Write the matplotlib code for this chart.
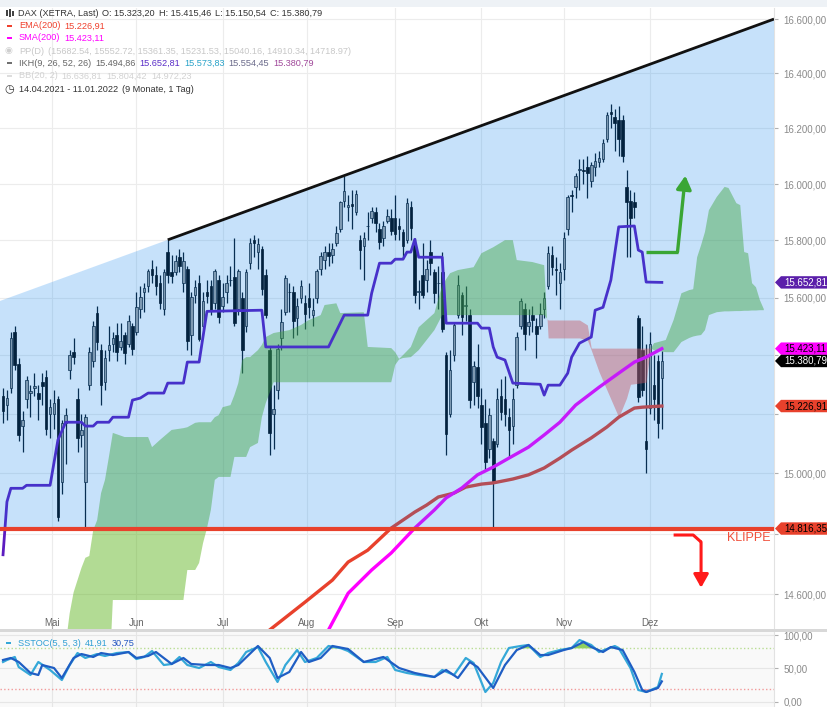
import numpy as np
import pandas as pd
import matplotlib
matplotlib.use('Agg')
import matplotlib.pyplot as plt
from matplotlib.patches import Polygon, Rectangle
from matplotlib.transforms import IdentityTransform
from matplotlib.ticker import FixedLocator, NullLocator, FuncFormatter

plt.rcParams['font.family'] = ['Liberation Sans', 'DejaVu Sans']

W, H = 828, 707
PX = IdentityTransform()

# trading days on the axis: 14.04.2021 - 11.01.2022 (last candle 06.12.2021)
days = pd.bdate_range('2021-04-14', '2022-01-11')

# DAX daily candles 14.04.2021 - 06.12.2021 (one row per month)
opens = [
    15260, 15230, 15290, 15480, 15370, 15160, 15250, 15270, 15290, 15270, 15310, 15325, 15200,
    15200, 15250, 14970, 15170, 15350, 15410, 15250, 15130, 14970, 15300, 15380, 15545, 15420, 15310, 15420, 15440, 15470, 15430, 15470, 15440, 15500,
    15480, 15560, 15620, 15640, 15700, 15680, 15650, 15560, 15760, 15690, 15690, 15740, 15650, 15700, 15470, 15610, 15650, 15500, 15620, 15640, 15580, 15660,
    15570, 15620, 15660, 15670, 15560, 15600, 15500, 15720, 15800, 15760, 15770, 15680, 15420, 15200, 15280, 15460, 15550, 15620, 15620, 15530, 15600, 15580,
    15600, 15540, 15600, 15700, 15730, 15760, 15750, 15790, 15840, 15940, 15920, 15930, 15900, 15800, 15780, 15850, 15880, 15900, 15840, 15810, 15870, 15880,
    15880, 15850, 15830, 15800, 15920, 15790, 15620, 15680, 15660, 15760, 15690, 15650, 15690, 15400, 15200, 15400, 15540, 15610, 15570, 15540, 15310, 15360,
    15230, 15170, 15080, 15110, 15100, 15260, 15250, 15190, 15160, 15300, 15500, 15560, 15500, 15540, 15500, 15500, 15560, 15640, 15750, 15700, 15650,
    15700, 15840, 15960, 15990, 16050, 16050, 16060, 16010, 16060, 16080, 16090, 16160, 16260, 16240, 16230, 16230, 15990, 15940, 15935, 15530, 15420, 15110,
    15220, 15300, 15380, 15323.20,
]
highs = [
    15290, 15280, 15480, 15500, 15390, 15210, 15330, 15300, 15340, 15300, 15340, 15350, 15250,
    15280, 15260, 15180, 15220, 15420, 15460, 15290, 15200, 15200, 15430, 15520, 15570, 15440, 15420, 15500, 15480, 15510, 15510, 15480, 15540, 15510,
    15620, 15640, 15650, 15700, 15730, 15710, 15680, 15700, 15802, 15750, 15750, 15770, 15760, 15710, 15620, 15660, 15680, 15620, 15660, 15660, 15700, 15680,
    15650, 15680, 15710, 15810, 15700, 15620, 15700, 15810, 15820, 15810, 15780, 15700, 15430, 15300, 15440, 15560, 15680, 15650, 15640, 15600, 15660, 15610,
    15650, 15600, 15700, 15760, 15780, 15790, 15790, 15850, 15940, 16030, 15960, 15980, 15980, 15820, 15830, 15900, 15920, 15920, 15860, 15870, 15910, 15910,
    15960, 15880, 15840, 15950, 15940, 15810, 15660, 15790, 15730, 15800, 15700, 15710, 15760, 15410, 15420, 15510, 15680, 15620, 15640, 15560, 15380, 15440,
    15290, 15250, 15220, 15120, 15290, 15320, 15330, 15220, 15290, 15480, 15600, 15580, 15560, 15570, 15530, 15580, 15620, 15780, 15780, 15740, 15720,
    15830, 15960, 15980, 16040, 16090, 16090, 16100, 16080, 16110, 16120, 16160, 16260, 16290, 16270, 16280, 16250, 16050, 15980, 15970, 15540, 15500, 15440,
    15480, 15400, 15400, 15415.46,
]
lows = [
    15170, 15180, 15270, 15350, 15110, 15070, 15220, 15190, 15260, 15180, 15230, 15130, 15120,
    15150, 14840, 14930, 15030, 15320, 15370, 15070, 15090, 14816, 15280, 15360, 15420, 15230, 15280, 15380, 15410, 15380, 15420, 15370, 15430, 15400,
    15470, 15530, 15550, 15620, 15650, 15610, 15560, 15540, 15650, 15650, 15680, 15690, 15620, 15420, 15400, 15580, 15450, 15490, 15580, 15540, 15560, 15510,
    15550, 15580, 15640, 15500, 15540, 15340, 15480, 15700, 15740, 15700, 15610, 15530, 15060, 15080, 15250, 15420, 15540, 15550, 15460, 15470, 15580, 15490,
    15530, 15500, 15580, 15680, 15700, 15710, 15720, 15780, 15830, 15920, 15870, 15840, 15890, 15700, 15660, 15800, 15860, 15830, 15770, 15780, 15860, 15820,
    15800, 15800, 15740, 15790, 15800, 15580, 15560, 15600, 15620, 15680, 15580, 15560, 15480, 15060, 15190, 15380, 15530, 15470, 15520, 15220, 15230, 15220,
    15100, 15010, 15050, 14818, 15090, 15180, 15160, 15050, 15100, 15290, 15490, 15420, 15470, 15480, 15390, 15490, 15530, 15630, 15680, 15610, 15560,
    15660, 15820, 15900, 15950, 15980, 16000, 15950, 15990, 16030, 16060, 16080, 16150, 16200, 16120, 16100, 16080, 15740, 15740, 15880, 15240, 15260, 15000,
    15200, 15180, 15120, 15150.54,
]
closes = [
    15209, 15255, 15460, 15368, 15129, 15180, 15315, 15279, 15296, 15250, 15295, 15150, 15225,
    15236, 14856, 15170, 15197, 15400, 15395, 15120, 15145, 15190, 15410, 15500, 15446, 15300, 15390, 15437, 15460, 15410, 15451, 15407, 15520, 15421,
    15568, 15603, 15632, 15693, 15677, 15640, 15581, 15690, 15680, 15674, 15729, 15710, 15727, 15448, 15603, 15636, 15456, 15589, 15607, 15554, 15691, 15531,
    15603, 15650, 15661, 15511, 15692, 15420, 15688, 15791, 15790, 15788, 15630, 15540, 15134, 15216, 15422, 15514, 15669, 15618, 15519, 15570, 15640, 15544,
    15568, 15555, 15692, 15744, 15761, 15745, 15770, 15826, 15937, 15977, 15925, 15922, 15965, 15765, 15808, 15852, 15905, 15860, 15794, 15851, 15888, 15835,
    15824, 15840, 15781, 15932, 15843, 15610, 15623, 15609, 15701, 15722, 15616, 15652, 15490, 15132, 15349, 15506, 15644, 15532, 15574, 15249, 15365, 15261,
    15156, 15037, 15195, 14973, 15250, 15207, 15199, 15147, 15250, 15462, 15587, 15475, 15516, 15522, 15473, 15543, 15599, 15757, 15705, 15696, 15689,
    15807, 15955, 15959, 16029, 16054, 16046, 16040, 16067, 16083, 16094, 16148, 16247, 16251, 16221, 16160, 16100, 15937, 15878, 15917, 15257, 15280, 15080,
    15440, 15250, 15170, 15380.79,
]

# Ichimoku cloud (Senkou span A / B, shifted 26 days ahead)
kumo_dates = [
    '2021-05-06', '2021-05-07', '2021-05-10', '2021-05-12', '2021-05-13', '2021-05-14', '2021-05-17', '2021-05-18', '2021-05-19', '2021-05-20', '2021-05-21', '2021-05-24', '2021-05-27',
    '2021-06-04', '2021-06-07', '2021-06-09', '2021-06-14', '2021-06-17', '2021-06-18', '2021-06-22', '2021-06-23', '2021-06-24', '2021-06-25', '2021-06-28', '2021-06-29', '2021-06-30',
    '2021-07-01', '2021-07-05', '2021-07-06', '2021-07-07', '2021-07-08', '2021-07-09', '2021-07-12', '2021-07-14', '2021-07-15', '2021-07-16', '2021-07-20', '2021-07-26', '2021-07-29',
    '2021-08-02', '2021-08-05', '2021-08-06', '2021-08-11', '2021-08-12', '2021-08-20', '2021-08-23', '2021-08-31',
    '2021-09-01', '2021-09-02', '2021-09-03', '2021-09-07', '2021-09-09', '2021-09-15', '2021-09-17', '2021-09-21', '2021-09-23', '2021-09-29',
    '2021-10-01', '2021-10-06', '2021-10-11', '2021-10-13', '2021-10-14', '2021-10-20', '2021-10-25', '2021-10-26',
    '2021-11-05', '2021-11-09', '2021-11-10', '2021-11-12', '2021-11-16', '2021-11-19', '2021-11-23', '2021-11-24', '2021-11-30',
    '2021-12-01', '2021-12-02', '2021-12-07', '2021-12-09', '2021-12-13', '2021-12-15', '2021-12-16', '2021-12-17', '2021-12-20', '2021-12-21', '2021-12-22', '2021-12-24', '2021-12-28', '2021-12-29', '2021-12-31',
    '2022-01-03', '2022-01-04', '2022-01-05', '2022-01-06', '2022-01-07', '2022-01-10', '2022-01-11',
]
span_a = [
    14440, 14539, 14607, 14687, 14720, 14726, 14811, 14844, 14934, 14978, 15055, 15136, 15122,
    15122, 15088, 15112, 15146, 15152, 15155, 15170, 15172, 15172, 15172, 15172, 15189, 15196,
    15223, 15230, 15264, 15305, 15384, 15394, 15394, 15418, 15436, 15463, 15477, 15487, 15505,
    15522, 15539, 15574, 15580, 15546, 15549, 15429, 15425,
    15411, 15388, 15401, 15429, 15497, 15546, 15643, 15685, 15696, 15706,
    15755, 15776, 15801, 15801, 15731, 15724, 15713, 15460,
    15460, 15453, 15418, 15343, 15281, 15189, 15254, 15301, 15308,
    15418, 15442, 15453, 15522, 15615, 15626, 15629, 15741, 15783, 15830, 15907, 15954, 15990, 15986, 15932,
    15925, 15759, 15755, 15650, 15636, 15591, 15560,
]
span_b = [
    14300, 14300, 14300, 14300, 14300, 14300, 14300, 14300, 14300, 14300, 14300, 14582, 14582,
    14582, 14582, 14582, 14582, 14582, 14680, 14680, 14703, 14768, 14817, 14878, 14978, 14988,
    14988, 14988, 15055, 15055, 15055, 15055, 15088, 15102, 15189, 15237, 15308, 15308, 15308,
    15308, 15308, 15308, 15308, 15308, 15308, 15308, 15308,
    15367, 15386, 15391, 15394, 15418, 15487, 15539, 15539, 15539, 15539,
    15539, 15539, 15539, 15539, 15539, 15539, 15539, 15522,
    15522, 15505, 15425, 15425, 15425, 15425, 15425, 15425, 15425,
    15425, 15418, 15411, 15411, 15446, 15460, 15465, 15468, 15470, 15487, 15539, 15549, 15552, 15552, 15553,
    15553, 15554, 15554, 15555, 15555, 15556, 15556,
]

# Kijun-sen (IKH 26)
kijun_dates = [
    '2021-04-14', '2021-04-15', '2021-04-16', '2021-04-21', '2021-04-22', '2021-04-30',
    '2021-05-04', '2021-05-06', '2021-05-12', '2021-05-13', '2021-05-17', '2021-05-18', '2021-05-21', '2021-05-24', '2021-05-28', '2021-05-31',
    '2021-06-02', '2021-06-04', '2021-06-10', '2021-06-11', '2021-06-17', '2021-06-18', '2021-06-23', '2021-06-25',
    '2021-07-15', '2021-07-16',
    '2021-08-09', '2021-08-13', '2021-08-23', '2021-08-24', '2021-08-26', '2021-08-31',
    '2021-09-01', '2021-09-03', '2021-09-06', '2021-09-07', '2021-09-08', '2021-09-09', '2021-09-17', '2021-09-20', '2021-09-30',
    '2021-10-01', '2021-10-05', '2021-10-06', '2021-10-07', '2021-10-11', '2021-10-13', '2021-10-22', '2021-10-25', '2021-10-26', '2021-10-29',
    '2021-11-02', '2021-11-03', '2021-11-05', '2021-11-10', '2021-11-11', '2021-11-15', '2021-11-17', '2021-11-19', '2021-11-25', '2021-11-26', '2021-11-29', '2021-11-30',
    '2021-12-06',
]
kijun = [
    14730, 14905, 14950, 14950, 14960, 14960,
    15112, 15172, 15172, 15159, 15159, 15172, 15172, 15189, 15189, 15247,
    15254, 15271, 15271, 15305, 15305, 15377, 15377, 15552,
    15556, 15429,
    15429, 15539, 15539, 15615, 15720, 15720,
    15734, 15734, 15759, 15759, 15804, 15741, 15741, 15511, 15511,
    15494, 15494, 15429, 15394, 15384, 15305, 15301, 15264, 15298, 15298,
    15339, 15394, 15442, 15463, 15556, 15566, 15661, 15848, 15851, 15766, 15759, 15654,
    15652.81,
]

# EMA(200) and SMA(200)
ema_dates = ['2021-07-05', '2021-07-19', '2021-07-30', '2021-08-10', '2021-08-16', '2021-08-23', '2021-08-31',
             '2021-09-08', '2021-09-13', '2021-09-16', '2021-09-22', '2021-09-27', '2021-10-01', '2021-10-06',
             '2021-10-13', '2021-10-19', '2021-10-25', '2021-10-29', '2021-11-03', '2021-11-10', '2021-11-16',
             '2021-11-19', '2021-11-25', '2021-11-29', '2021-12-06']
ema200 = [14390, 14485, 14575, 14647, 14706, 14745, 14818, 14871, 14894, 14921, 14934, 14954, 14964, 14968,
          14981, 14995, 15018, 15051, 15078, 15119, 15156, 15189, 15220, 15223, 15226.91]
sma_dates = ['2021-08-05', '2021-08-09', '2021-08-16', '2021-08-24', '2021-08-31', '2021-09-08', '2021-09-15',
             '2021-09-20', '2021-09-24', '2021-09-30', '2021-10-06', '2021-10-12', '2021-10-19', '2021-10-25',
             '2021-10-29', '2021-11-04', '2021-11-12', '2021-11-19', '2021-11-25', '2021-11-30', '2021-12-06']
sma200 = [14430, 14485, 14604, 14680, 14736, 14818, 14878, 14918, 14951, 14995, 15021, 15051, 15088, 15129,
          15172, 15230, 15291, 15339, 15377, 15394, 15423.11]

# Slow stochastic SSTOC(5, 5, 3): %K and %D
k_dates = [
    '2021-04-14', '2021-04-15', '2021-04-19', '2021-04-20', '2021-04-23', '2021-04-27', '2021-04-30',
    '2021-05-05', '2021-05-07', '2021-05-11', '2021-05-13', '2021-05-18', '2021-05-20', '2021-05-25', '2021-05-28',
    '2021-06-01', '2021-06-03', '2021-06-07', '2021-06-10', '2021-06-14', '2021-06-16', '2021-06-18', '2021-06-23', '2021-06-28', '2021-06-30',
    '2021-07-05', '2021-07-07', '2021-07-09', '2021-07-14', '2021-07-16', '2021-07-21', '2021-07-23', '2021-07-28', '2021-07-30',
    '2021-08-04', '2021-08-09', '2021-08-12', '2021-08-16', '2021-08-20', '2021-08-25', '2021-08-30',
    '2021-09-01', '2021-09-06', '2021-09-09', '2021-09-15', '2021-09-17', '2021-09-22', '2021-09-27', '2021-09-29',
    '2021-10-04', '2021-10-06', '2021-10-08', '2021-10-12', '2021-10-15', '2021-10-19', '2021-10-22', '2021-10-26', '2021-10-29',
    '2021-11-03', '2021-11-05', '2021-11-10', '2021-11-12', '2021-11-18', '2021-11-19', '2021-11-24', '2021-11-26', '2021-11-30',
    '2021-12-03', '2021-12-06',
]
k_vals = [
    59.7, 62.7, 67.2, 52.2, 40.3, 59.7, 47.8,
    32.8, 55.2, 73.1, 65.7, 71.6, 68.7, 73.1, 74.6,
    64.2, 67.2, 76.1, 55.2, 56.7, 67.2, 55.2, 50.7, 59.7, 52.2,
    47.8, 58.2, 74.6, 82.1, 59.7, 29.9, 55.2, 77.6, 59.7,
    65.7, 83.6, 80.6, 76.1, 59.7, 59.7, 67.2,
    47.8, 43.3, 40.3, 37.3, 47.8, 40.3, 65.7, 58.2,
    14.9, 28.4, 59.7, 80.6, 83.6, 85.1, 67.2, 73.1, 77.6,
    80.6, 92.5, 85.1, 74.6, 83.6, 80.6, 50.7, 17.9, 14.9,
    22.4, 41.91,
]
d_dates = [
    '2021-04-14', '2021-04-16', '2021-04-20', '2021-04-23', '2021-04-27', '2021-04-28',
    '2021-05-03', '2021-05-05', '2021-05-10', '2021-05-12', '2021-05-17', '2021-05-19', '2021-05-24', '2021-05-28',
    '2021-06-01', '2021-06-04', '2021-06-08', '2021-06-14', '2021-06-17', '2021-06-21', '2021-06-25', '2021-06-30',
    '2021-07-05', '2021-07-07', '2021-07-14', '2021-07-19', '2021-07-21', '2021-07-26', '2021-07-29',
    '2021-08-02', '2021-08-05', '2021-08-10', '2021-08-16', '2021-08-20', '2021-08-27',
    '2021-09-02', '2021-09-08', '2021-09-15', '2021-09-20', '2021-09-23', '2021-09-28', '2021-09-30',
    '2021-10-06', '2021-10-11', '2021-10-14', '2021-10-19', '2021-10-22', '2021-10-26',
    '2021-11-01', '2021-11-03', '2021-11-08', '2021-11-10', '2021-11-15', '2021-11-17', '2021-11-22', '2021-11-25', '2021-11-29', '2021-11-30',
    '2021-12-03', '2021-12-06',
]
d_vals = [
    62.7, 65.7, 59.7, 43.3, 40.3, 55.2,
    50.7, 35.8, 65.7, 71.6, 67.2, 73.1, 70.1, 74.6,
    65.7, 68.7, 74.6, 56.7, 65.7, 56.7, 55.2, 55.2,
    50.7, 55.2, 83.6, 65.7, 35.8, 44.8, 74.6,
    59.7, 65.7, 83.6, 79.1, 59.7, 67.2,
    50.7, 43.3, 37.3, 47.8, 35.8, 59.7, 52.2,
    20.9, 55.2, 77.6, 85.1, 70.1, 70.1,
    77.6, 80.6, 89.6, 82.1, 74.6, 82.1, 77.6, 44.8, 17.9, 14.9,
    20.9, 30.75,
]

# drawings
klippe = 14816.35
trend_start_date, trend_start = '2021-06-11', 15802
trend_end = 16600
green_arrow_dates = ['2021-11-30', '2021-12-10', '2021-12-14']
green_arrow_prices = [15760, 15760, 16030]
red_arrow_dates = ['2021-12-09', '2021-12-16', '2021-12-20', '2021-12-20']
red_arrow_prices = [14795, 14795, 14772, 14622]

month_names = ['Mai', 'Jun', 'Jul', 'Aug', 'Sep', 'Okt', 'Nov', 'Dez']
# axis levels that sit under a price tag on the right
covered_levels = [14800, 15200, 15400]


def de(v, _=None):
    s = f'{v:,.2f}'
    return s.replace(',', '#').replace('.', ',').replace('#', '.')


def axis_label(v, _=None):
    return '' if round(v) in covered_levels else de(v)


def pos(dates):
    return days.get_indexer(pd.to_datetime(dates)).astype(float)


fig = plt.figure(figsize=(W / 100, H / 100), dpi=100)
fig.patch.set_facecolor('white')
ax = fig.add_axes([0, 1 - 629 / H, 774 / W, 621 / H])
ax2 = fig.add_axes([0, 0, 774 / W, 75 / H])
xlim = (-0.77, 196.6)

tick_pos = []
for m in pd.date_range('2021-05-01', '2021-12-01', freq='MS'):
    i = days.searchsorted(m)
    tick_pos.append(i if days[i] == m else i - 0.5)

# ---- main panel
ax.set_yscale('log')
ax.set_xlim(*xlim)
ax.set_ylim(14488, 16641)
ax.yaxis.set_major_locator(FixedLocator(np.arange(14600, 16601, 200)))
ax.yaxis.set_minor_locator(NullLocator())
ax.yaxis.set_major_formatter(FuncFormatter(axis_label))
ax.yaxis.tick_right()
ax.tick_params(axis='y', length=3, color='#b0b0b0', labelcolor='#8a8a8a', labelsize=7, pad=4)
ax.set_xticks(tick_pos)
ax.set_xticklabels(month_names)
ax.tick_params(axis='x', direction='in', length=3, color='#aaaaaa', labelcolor='#666666', labelsize=7, pad=-8)
ax.grid(True, color='#ececec', lw=0.8)
ax.set_axisbelow(True)
for s in ['top', 'left', 'bottom']:
    ax.spines[s].set_visible(False)
ax.spines['right'].set_color('#e2e2e2')

x = np.arange(len(closes))
o, h, l, c = (np.array(v, dtype=float) for v in (opens, highs, lows, closes))
up = c >= o
ax.vlines(x, l, h, color='#0b1826', lw=0.9, zorder=2)
ax.bar(x[up], c[up] - o[up], bottom=o[up], width=0.66, color='#a2a2a2', edgecolor='#0b1826', lw=0.5, zorder=2.1)
ax.bar(x[~up], o[~up] - c[~up], bottom=c[~up], width=0.66, color='#04080c', edgecolor='#04080c', lw=0.5, zorder=2.1)

kx = pos(kumo_dates)
a = np.array(span_a, dtype=float)
b = np.array(span_b, dtype=float)
ax.fill_between(kx, a, b, where=a >= b, interpolate=True, color='#56b012', alpha=0.45, lw=0, zorder=2.5)
ax.fill_between(kx, a, b, where=a < b, interpolate=True, color='#ff503e', alpha=0.45, lw=0, zorder=2.5)

ax.plot(pos(ema_dates), ema200, color='#e8412c', lw=2.4, zorder=3)
ax.plot(pos(sma_dates), sma200, color='#ff00ff', lw=2.4, zorder=3)
ax.plot(pos(kijun_dates), kijun, color='#5c1cc0', lw=2.0, zorder=3)

# trend zone between the trend line and the "Klippe"
t0 = pos([trend_start_date])[0]
slope = (np.log(trend_end) - np.log(trend_start)) / (xlim[1] - t0)
v_left = np.exp(np.log(trend_start) - slope * (t0 - xlim[0]))
zone = Polygon([(xlim[0], v_left), (t0, trend_start), (xlim[1], trend_end), (xlim[1], klippe), (xlim[0], klippe)],
               closed=True, fc=(0, 125 / 255, 237 / 255, 0.224), ec='none', zorder=4)
ax.add_patch(zone)
ax.plot([t0, xlim[1]], [trend_start, trend_end], color='#111111', lw=2.0, zorder=5, solid_capstyle='butt')
ax.axhline(klippe, color='#e8412c', lw=3, zorder=5)

gx = pos(green_arrow_dates)
ax.plot(gx[:2], green_arrow_prices[:2], color='#3aa634', lw=2.4, zorder=5, solid_capstyle='butt')
ax.annotate('', xy=(gx[2], green_arrow_prices[2]), xytext=(gx[1], green_arrow_prices[1]), zorder=5,
            arrowprops=dict(arrowstyle='-|>,head_length=0.8,head_width=0.45', color='#3aa634', lw=2.4,
                            shrinkA=0, shrinkB=0))
rx = pos(red_arrow_dates)
ax.plot(rx[:3], red_arrow_prices[:3], color='#ff1a1a', lw=2.2, zorder=5, solid_capstyle='butt')
ax.annotate('', xy=(rx[3], red_arrow_prices[3]), xytext=(rx[2], red_arrow_prices[2]), zorder=5,
            arrowprops=dict(arrowstyle='-|>,head_length=0.8,head_width=0.45', color='#ff1a1a', lw=2.2,
                            shrinkA=0, shrinkB=0))

# ---- stochastic panel
ax2.set_xlim(*xlim)
ax2.set_ylim(-7.5, 104.5)
ax2.set_facecolor('#f9f9f9')
ax2.set_xticks(tick_pos)
ax2.tick_params(axis='x', length=0, labelbottom=False)
ax2.yaxis.tick_right()
ax2.set_yticks([0, 50, 100])
ax2.yaxis.set_major_formatter(FuncFormatter(de))
ax2.tick_params(axis='y', length=3, color='#b0b0b0', labelcolor='#8a8a8a', labelsize=7, pad=4)
ax2.grid(True, color='#e6e6e6', lw=0.8)
ax2.set_axisbelow(True)
for s in ['top', 'left', 'bottom']:
    ax2.spines[s].set_visible(False)
ax2.spines['right'].set_color('#e2e2e2')
ax2.axhline(80, color='#b9dd93', ls=':', lw=1.0)
ax2.axhline(20, color='#f29a9a', ls=':', lw=1.0)
dx = pos(d_dates)
dv = np.array(d_vals)
ax2.fill_between(dx, dv, 80, where=dv > 80, interpolate=True, color='#7cc943', alpha=0.85, lw=0)
ax2.fill_between(dx, dv, 20, where=dv < 20, interpolate=True, color='#f28c8c', alpha=0.85, lw=0)
ax2.plot(pos(k_dates), k_vals, color='#35a8d8', lw=1.6)
ax2.plot(dx, dv, color='#1f5ec4', lw=1.6)

# separators
fig.add_artist(Rectangle((0, H - 629 - 3), W, 3, fc='#d8d8d8', ec='none', transform=PX, zorder=0.5))
fig.add_artist(Rectangle((0, H - 7), W, 7, fc='#eef2f6', ec='none', transform=PX, zorder=0.5))


# ---- price tags on the right axis
def price_tag(value, bg, fg):
    yd = ax.transData.transform((0, value))[1]
    hh = 6.2
    verts = [(775, yd), (781, yd + hh), (W, yd + hh), (W, yd - hh), (781, yd - hh)]
    fig.add_artist(Polygon(verts, closed=True, fc=bg, ec='none', transform=PX, zorder=5))
    fig.text(784 / W, yd / H, de(value), color=fg, fontsize=7, va='center', ha='left', zorder=6)


price_tag(kijun[-1], '#5b1faa', 'white')
price_tag(klippe, '#e8412c', 'black')
price_tag(ema200[-1], '#e8412c', 'black')
price_tag(sma200[-1], '#ff00ff', 'black')
price_tag(closes[-1], '#000000', 'white')

fig.text(771 / W, 1 - 538 / H, 'KLIPPE', color='#f0503c', fontsize=9, ha='right', va='center', zorder=6)

# ---- legend rows
renderer = fig.canvas.get_renderer()


def row(x0, y, parts, size=6.6, gap=4):
    xx = x0
    for txt, col in parts:
        t = fig.text(xx / W, 1 - y / H, txt, color=col, fontsize=size, va='center', ha='left', zorder=6)
        xx = t.get_window_extent(renderer).x1 + gap


def dash(y, col):
    fig.add_artist(Rectangle((7, H - y - 1.3), 4.5, 2.6, fc=col, ec='none', transform=PX, zorder=6))


for bx, bh in [(6, 6), (9, 8), (12, 5)]:
    fig.add_artist(Rectangle((bx, H - 13 - bh / 2), 1.6, bh, fc='#444444', ec='none', transform=PX, zorder=6))
row(18, 13, [('DAX (XETRA, Last)', '#333333'), ('O: 15.323,20', '#333333'), ('H: 15.415,46', '#333333'),
             ('L: 15.150,54', '#333333'), ('C: 15.380,79', '#333333')])
dash(26, '#f0412e')
row(19, 26, [('EMA(200)', '#f0412e'), ('15.226,91', '#f0412e')])
dash(38, '#ff00ff')
row(19, 38, [('SMA(200)', '#ff00ff'), ('15.423,11', '#ff00ff')])
fig.text(5 / W, 1 - 51 / H, '◉', color='#cfcfcf', fontsize=6.5, va='center', ha='left')
row(19, 51, [('PP(D)', '#c8c8c8'),
             ('(15682.54, 15552.72, 15361.35, 15231.53, 15040.16, 14910.34, 14718.97)', '#c8c8c8')])
dash(63, '#707070')
row(19, 63, [('IKH(9, 26, 52, 26)', '#666666'), ('15.494,86', '#666666'), ('15.652,81', '#5a2dc8'),
             ('15.573,83', '#2aa3c9'), ('15.554,45', '#6a6a8a'), ('15.380,79', '#a0489a')])
dash(76, '#dddddd')
row(19, 76, [('BB(20, 2)', '#d2d2d2'), ('16.636,81', '#d2d2d2'), ('15.804,42', '#d2d2d2'), ('14.972,23', '#d2d2d2')])
fig.text(4 / W, 1 - 89 / H, '◷', color='#333333', fontsize=8, va='center', ha='left')
row(19, 89, [('14.04.2021 - 11.01.2022', '#333333'), ('(9 Monate, 1 Tag)', '#333333')])

fig.add_artist(Rectangle((6, H - 643 - 1.3), 4.5, 2.6, fc='#35a8d8', ec='none', transform=PX, zorder=6))
row(18, 643, [('SSTOC(5, 5, 3)', '#2f9fd4'), ('41,91', '#2f9fd4'), ('30,75', '#2055c0')])

fig.savefig('out.png', dpi=100)
